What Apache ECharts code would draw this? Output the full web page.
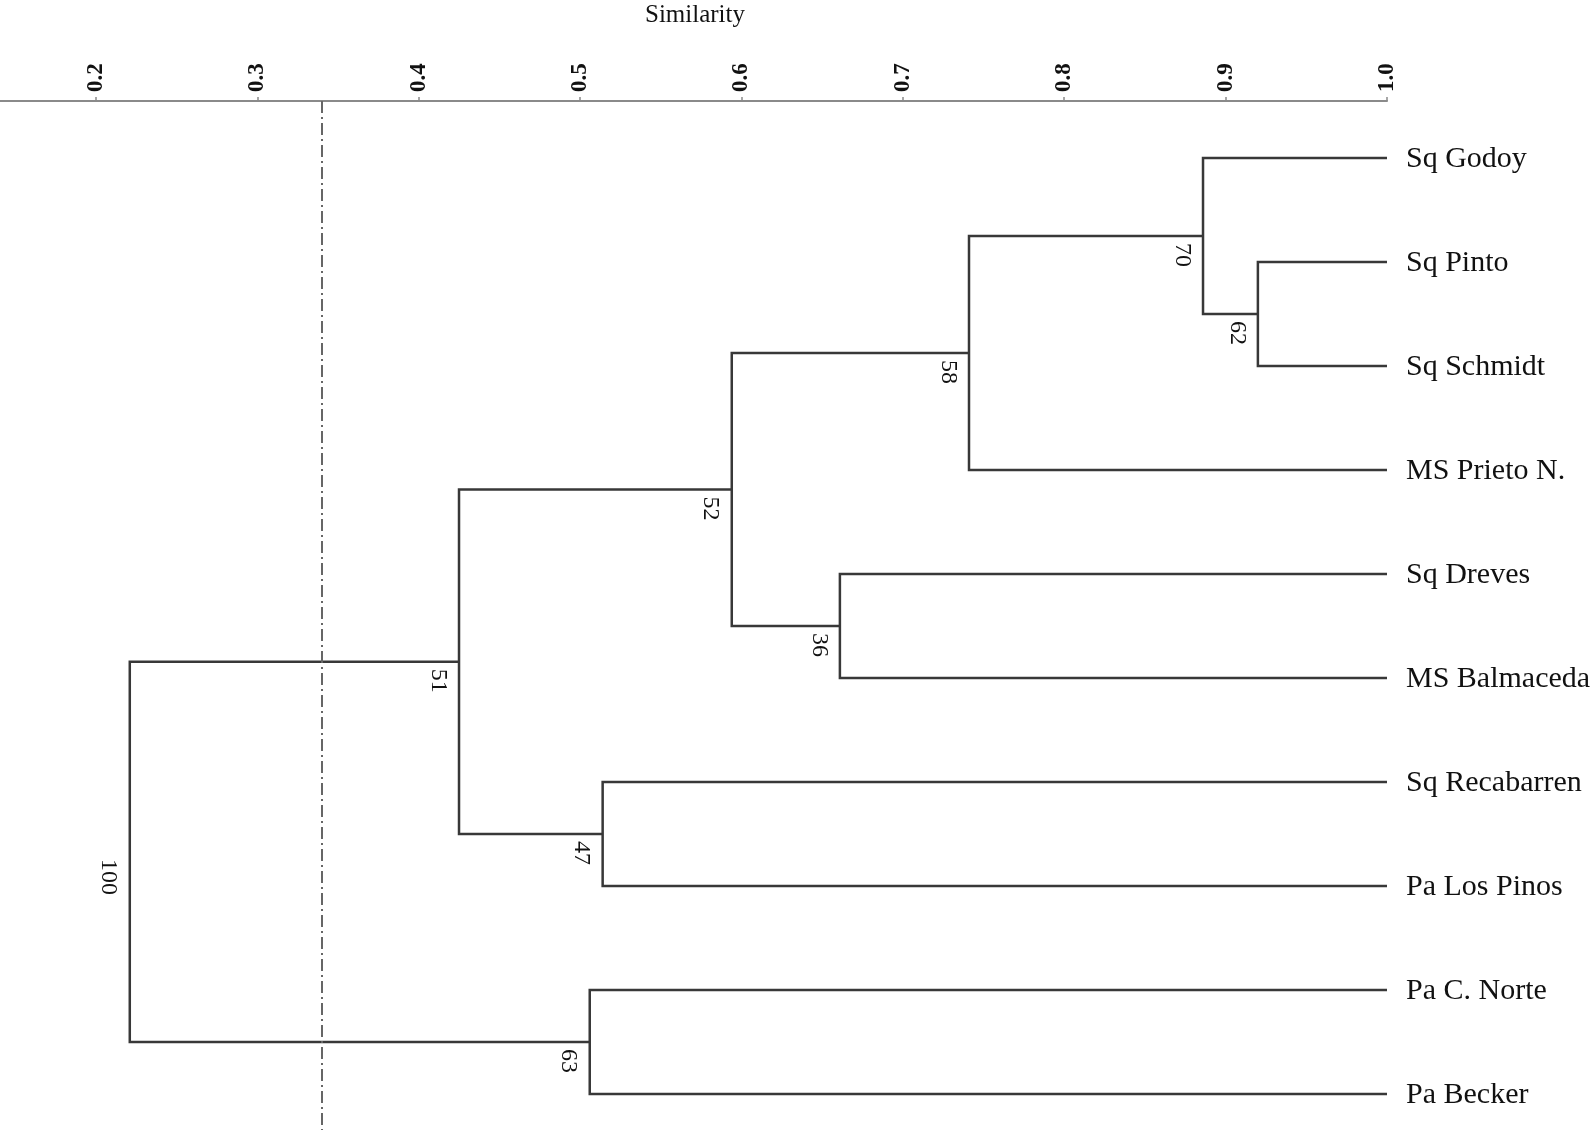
<!DOCTYPE html>
<html><head><meta charset="utf-8">
<script src="https://cdn.jsdelivr.net/npm/echarts@6/dist/echarts.min.js"></script>
<style>html,body{margin:0;padding:0;background:#fff}#main{width:1595px;height:1137px}</style>
</head><body><div id="main"></div>
<script>
// Leaves (top to bottom)
const leafNames = ['Sq Godoy','Sq Pinto','Sq Schmidt','MS Prieto N.','Sq Dreves','MS Balmaceda','Sq Recabarren','Pa Los Pinos','Pa C. Norte','Pa Becker'];
// Merges: children refs (L = leaf index, N = merge index), similarity level, support value
const mergeChildren = [['L1','L2'],['L0','N0'],['N1','L3'],['L4','L5'],['N2','N3'],['L6','L7'],['N4','N5'],['L8','L9'],['N6','N7']];
const mergeSimilarity = [0.920, 0.886, 0.741, 0.661, 0.594, 0.514, 0.425, 0.506, 0.221];
const mergeSupport = [62, 70, 58, 36, 52, 47, 51, 63, 100];
const leafSimilarity = 1.0;
const cutOff = 0.34;
const axisTitle = 'Similarity';
const xTickLabels = ['0.1','0.2','0.3','0.4','0.5','0.6','0.7','0.8','0.9','1.0'];

const FONT = '"Liberation Serif","Times New Roman",serif';

// Build node positions
const nodes = [];
function ref(r){
  if (r[0] === 'L') return {x: leafSimilarity, y: +r.slice(1)};
  return nodes[+r.slice(1)];
}
const linkData = [];
mergeChildren.forEach((ch, i) => {
  const a = ref(ch[0]), b = ref(ch[1]);
  const n = {x: mergeSimilarity[i], y: (a.y + b.y) / 2};
  nodes.push(n);
  linkData.push([n.x, a.y, b.y, a.x, b.x, mergeSupport[i], n.y]);
});
const leafData = leafNames.map((nm, i) => [leafSimilarity, i]);

const chart = echarts.init(document.getElementById('main'));
chart.setOption({
  animation: false,
  backgroundColor: '#fff',
  title: {text: axisTitle, left: 695, top: 3, textAlign: 'center', padding: 0,
    textStyle: {fontFamily: FONT, fontSize: 25, fontWeight: 'normal', color: '#111'}},
  grid: {left: -65.5, right: 208, top: 101, bottom: 7, containLabel: false, outerBoundsMode: 'none'},
  xAxis: {
    type: 'value', position: 'top', min: 0.1, max: 1.0, interval: 0.1,
    axisLine: {show: true, onZero: false, lineStyle: {color: '#8a8a8a', width: 2}},
    axisTick: {show: true, length: 4, lineStyle: {color: '#8a8a8a', width: 1.5}},
    axisLabel: {rotate: -90, margin: 9, fontFamily: FONT, fontSize: 23, fontWeight: 'bold', color: '#111',
      formatter: v => xTickLabels[Math.round(v * 10) - 1]},
    splitLine: {show: false}
  },
  yAxis: {type: 'value', inverse: true, min: -0.548, max: 9.346, show: false},
  series: [
    {
      type: 'custom',
      data: linkData,
      encode: {x: [0, 3, 4], y: [1, 2, 6]},
      renderItem: function (params, api) {
        const nx = api.value(0), ya = api.value(1), yb = api.value(2), xa = api.value(3), xb = api.value(4);
        const pA = api.coord([xa, ya]), pJA = api.coord([nx, ya]), pJB = api.coord([nx, yb]), pB = api.coord([xb, yb]);
        const pN = api.coord([nx, api.value(6)]);
        return {type: 'group', children: [
          {type: 'polyline', shape: {points: [pA, pJA, pJB, pB]},
           style: {stroke: '#383838', lineWidth: 2.5, fill: null, lineJoin: 'miter'}},
          {type: 'text', x: pN[0] - 21, y: pN[1] + 7, rotation: -Math.PI / 2,
           style: {text: String(api.value(5)), fill: '#111', font: '24px ' + FONT, align: 'left', verticalAlign: 'middle'}}
        ]};
      },
      markLine: {
        silent: true, symbol: 'none', animation: false,
        label: {show: false},
        lineStyle: {color: '#666', width: 2, type: [12, 4, 2, 4]},
        data: [{xAxis: cutOff}]
      }
    },
    {
      type: 'custom',
      data: leafData,
      encode: {x: 0, y: 1},
      renderItem: function (params, api) {
        const p = api.coord([api.value(0), api.value(1)]);
        return {type: 'text', x: p[0] + 19, y: p[1] + 1,
          style: {text: leafNames[params.dataIndex], fill: '#111', font: '30px ' + FONT, align: 'left', verticalAlign: 'middle'}};
      }
    }
  ]
});
</script></body></html>
